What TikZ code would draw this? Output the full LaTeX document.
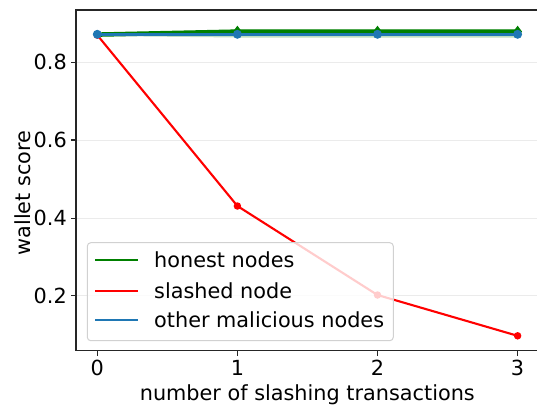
\documentclass[tikz,border=0pt]{standalone}
\usepackage{fontspec}
\setmainfont{DejaVu Sans}
\usetikzlibrary{shapes.geometric}
\definecolor{mgreen}{HTML}{008000}
\definecolor{mred}{HTML}{FF0000}
\definecolor{mblue}{HTML}{1F77B4}
\begin{document}
\begin{tikzpicture}[x=1pt,y=-1pt,font=\fontsize{20.8}{25}\selectfont,
  spine/.style={line width=1.1pt,draw=black!85},
  gridline/.style={line width=0.8pt,draw=black!8},
  tickmark/.style={line width=1.1pt,draw=black!85},
  redline/.style={line width=2.1pt,draw=mred},
  greenline/.style={line width=4.5pt,draw=mgreen},
  blueline/.style={line width=2.6pt,draw=mblue},
  reddot/.style={circle,fill=mred,inner sep=0pt,minimum size=7.5pt},
  bluedot/.style={circle,fill=mblue,inner sep=0pt,minimum size=9pt},
  greendia/.style={diamond,fill=mgreen,inner sep=0pt,minimum width=9pt,minimum height=12pt},
  legbox/.style={draw=black!18,line width=1pt,fill=white,fill opacity=0.8,rounded corners=3.5pt},
  leghandle/.style={line width=2.1pt}]
\useasboundingbox (0,0) rectangle (537,405);
\fill[white] (0,0) rectangle (537,405);
% grid
\foreach \yy in {62.3,140,218.3,295.7} \draw[gridline] (76,\yy) -- (537,\yy);
% data coordinates
\coordinate (g0) at (97.3,34.6);
\coordinate (g1) at (237.4,31.6);
\coordinate (g2) at (377.5,31.6);
\coordinate (g3) at (517.6,31.6);
\coordinate (r0) at (97.3,35.1);
\coordinate (r1) at (237.4,206);
\coordinate (r2) at (377.5,295);
\coordinate (r3) at (517.6,335.8);
\coordinate (b0) at (97.3,34.3);
\coordinate (b1) at (237.4,34.3);
\coordinate (b2) at (377.5,34.3);
\coordinate (b3) at (517.6,34.3);
% light band
\fill[mgreen,opacity=0.25] (97.3,34) -- (237.4,29.5) -- (517.6,29.5) -- (517.6,37.5) -- (237.4,37.5) -- (97.3,36) -- cycle;
% honest
\draw[greenline] (g0) -- (g1) -- (g2) -- (g3);
\foreach \p in {g1,g2,g3} \node[greendia] at (\p) {};
% slashed
\draw[redline] (r0) -- (r1) -- (r2) -- (r3);
\foreach \p in {r0,r1,r2,r3} \node[reddot] at (\p) {};
% other malicious
\draw[blueline] (b0) -- (b1) -- (b2) -- (b3);
\foreach \p in {b0,b1,b2,b3} \node[bluedot] at (\p) {};
% legend
\draw[legbox] (87.3,242.7) rectangle (393.3,340.7);
\draw[leghandle,mgreen] (95,260) -- (138.3,260);
\draw[leghandle,mred] (95,290.7) -- (138.3,290.7);
\draw[leghandle,mblue] (95,320) -- (138.3,320);
\node[anchor=west,inner sep=0pt] (l1) at (154,260) {honest nodes};
\node[anchor=west,inner sep=0pt] (l2) at (154,290.7) {slashed node};
\node[anchor=west,inner sep=0pt] (l3) at (154,320) {other malicious nodes};
% spines
\draw[spine] (76,350.7) -- (76,10) -- (537,10);
\draw[spine] (76,350.7) -- (537,350.7);
% y ticks
\foreach \yy/\lab in {62.3/0.8,140/0.6,218.3/0.4,295.7/0.2}{
  \draw[tickmark] (71.1,\yy) -- (76,\yy);
  \node[anchor=east,inner sep=0pt] at (67,\yy) {\lab};
}
% x ticks
\foreach \xx/\lab in {97.3/0,237.4/1,377.5/2,517.6/3}{
  \draw[tickmark] (\xx,350.7) -- (\xx,355.6);
  \node[anchor=base,inner sep=0pt] at (\xx,375.5) {\lab};
}
\node[anchor=base,inner sep=0pt] (xl) at (307.3,400.5) {number of slashing transactions};
\node[anchor=base,inner sep=0pt,rotate=90] (yl) at (30,193) {wallet score};
\end{tikzpicture}
\end{document}
